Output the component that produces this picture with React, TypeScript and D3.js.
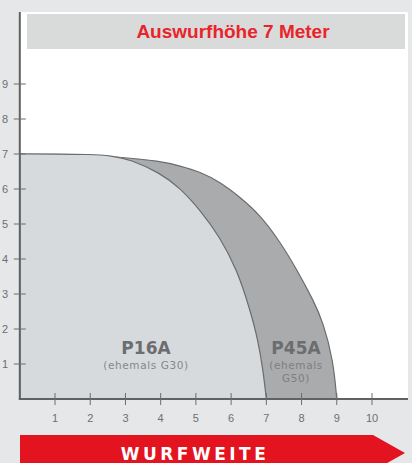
import React, { useEffect } from "react"
import * as d3 from "d3"

// throw distance (m) / height (m) outlines
const p16Distance = [0, 1, 2, 2.6, 3.13, 3.98, 4.55, 5.12, 5.68, 6.17, 6.54, 6.76, 6.91, 7]
const p16Height = [7, 7, 6.99, 6.95, 6.85, 6.46, 6.03, 5.4, 4.63, 3.69, 2.54, 1.7, 0.8, 0]
const p45Distance = [0, 1.5, 2.84, 3.98, 4.55, 5.12, 5.68, 6.25, 6.82, 7.39, 7.87, 8.33, 8.61, 8.9, 9]
const p45Height = [7, 7, 6.91, 6.8, 6.66, 6.49, 6.2, 5.77, 5.26, 4.49, 3.69, 2.83, 2.2, 1.11, 0]

const xTicks = [1, 2, 3, 4, 5, 6, 7, 8, 9, 10]
const yTicks = [1, 2, 3, 4, 5, 6, 7, 8, 9]

const title = "Auswurfhöhe 7 Meter"
const axisTitle = "WURFWEITE"

const W = 412
const H = 463

export default function App() {
  useEffect(() => {
    document.body.style.margin = "0"
  }, [])

  const x = d3.scaleLinear().domain([0, 10]).range([19.8, 372])
  const y = d3.scaleLinear().domain([0, 9]).range([399, 84])

  const line = d3
    .line<[number, number]>()
    .x(d => x(d[0]))
    .y(d => y(d[1]))
    .curve(d3.curveBasis)

  const shape = (dist: number[], height: number[]) => {
    const pts = dist.map((d, i) => [d, height[i]] as [number, number])
    return `${line(pts)}L${x(0)},${y(0)}Z`
  }

  const grey = "#6d6f71"
  const tickFont = "'Liberation Sans', Arial, sans-serif"

  return (
    <svg width={W} height={H} style={{ display: "block" }}>
      <rect width={W} height={H} fill="#e6e7e9" />
      {/* plot area */}
      <rect x={x(0)} y={12} width={408 - x(0)} height={y(0) - 12} fill="#ffffff" />
      {/* title box */}
      <rect x={27} y={14} width={378} height={35} fill="#d9dada" />
      <text
        x={233}
        y={38}
        textAnchor="middle"
        fill="#e8242c"
        fontFamily="'Liberation Sans', Arial, sans-serif"
        fontWeight="bold"
        fontSize={19}
      >
        {title}
      </text>

      {/* areas */}
      <path d={shape(p45Distance, p45Height)} fill="#a9abad" stroke="#6a6c6e" strokeWidth={1.2} />
      <path d={shape(p16Distance, p16Height)} fill="#d7dadd" stroke="#6a6c6e" strokeWidth={1.2} />

      {/* series labels */}
      <g fontFamily="'DejaVu Sans', Verdana, sans-serif" textAnchor="middle">
        <text x={146} y={354} fontSize={17} fontWeight="bold" fill="#6b6d70">P16A</text>
        <text x={146} y={369} fontSize={10.5} letterSpacing={0.6} fill="#85878a">(ehemals G30)</text>
        <text x={296} y={354} fontSize={17} fontWeight="bold" fill="#6b6d70">P45A</text>
        <text x={296} y={369} fontSize={10.5} letterSpacing={0.6} fill="#7d7f82">(ehemals</text>
        <text x={296} y={382} fontSize={10.5} letterSpacing={0.6} fill="#7d7f82">G50)</text>
      </g>

      {/* axes */}
      <line x1={x(0)} x2={x(0)} y1={12} y2={y(0)} stroke="#5f6163" strokeWidth={2} />
      <line x1={x(0) - 1} x2={408} y1={y(0)} y2={y(0)} stroke="#5f6163" strokeWidth={2} />
      {xTicks.map(t => (
        <g key={"x" + t}>
          <line x1={x(t)} x2={x(t)} y1={y(0) - 6} y2={y(0) + 6} stroke="#6a6c6e" strokeWidth={1} />
          <text x={x(t)} y={422} textAnchor="middle" fontSize={11} fill={grey} fontFamily={tickFont}>
            {t}
          </text>
        </g>
      ))}
      {yTicks.map(t => (
        <g key={"y" + t}>
          <line x1={x(0) - 6} x2={x(0) + 6} y1={y(t)} y2={y(t)} stroke="#6a6c6e" strokeWidth={1} />
          <text x={5} y={y(t) + 4} textAnchor="middle" fontSize={11} fill={grey} fontFamily={tickFont}>
            {t}
          </text>
        </g>
      ))}

      {/* red arrow */}
      <polygon points="20,435 373,435 405,453 373,471 20,471" fill="#e3131f" />
      <text
        x={195}
        y={460}
        textAnchor="middle"
        fill="#ffffff"
        fontFamily="'DejaVu Sans', Verdana, sans-serif"
        fontWeight="bold"
        fontSize={17}
        letterSpacing={3.5}
      >
        {axisTitle}
      </text>
    </svg>
  )
}
